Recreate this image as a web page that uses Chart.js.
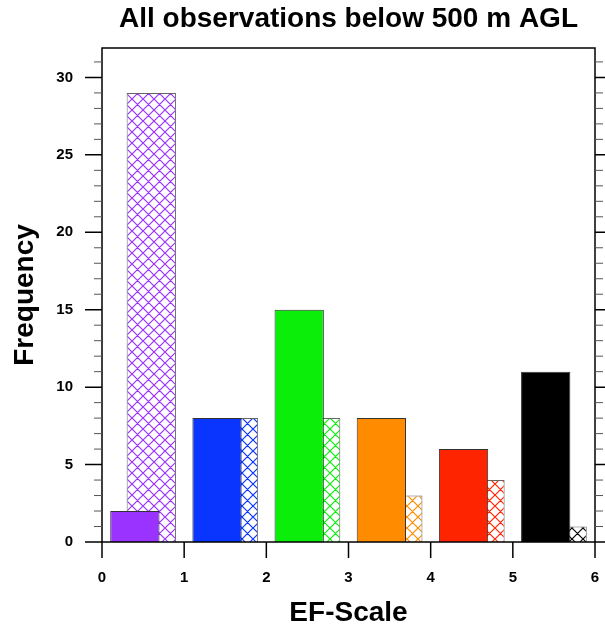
<!DOCTYPE html>
<html lang="en">
<head>
    <meta charset="UTF-8">
    <title>EF-Scale frequency</title>
    <script src="https://cdn.jsdelivr.net/npm/chart.js"></script>
    <style>
        html, body { margin: 0; padding: 0; background: #fff; }
        #wrap { width: 605px; height: 629px; }
    </style>
</head>
<body>
    <div id="wrap"><canvas id="myChart" width="605" height="629"></canvas></div>
    <script>
        // values
        const efScale = [0, 1, 2, 3, 4, 5];
        const solidCounts = [2, 8, 15, 8, 6, 11];
        const hatchCounts = [29, 8, 8, 3, 4, 1];
        const barColors = ['#9a33ff', '#0a35ff', '#0aee0a', '#ff8c00', '#ff2400', '#000000'];
        const xTicks = [0, 1, 2, 3, 4, 5, 6];
        const yTicks = [0, 5, 10, 15, 20, 25, 30];

        const FONT = '"Liberation Sans", Arial, Helvetica, sans-serif';

        // cross hatch, 11px period
        function hatch(color) {
            const n = 11;
            const c = document.createElement('canvas');
            c.width = n; c.height = n;
            const g = c.getContext('2d');
            g.fillStyle = '#fff';
            g.fillRect(0, 0, n, n);
            g.strokeStyle = color;
            g.lineWidth = 1.2;
            g.beginPath();
            for (let k = -1; k <= 1; k++) {
                g.moveTo(k * n, 0); g.lineTo(k * n + n, n);
                g.moveTo(k * n, n); g.lineTo(k * n + n, 0);
            }
            g.stroke();
            return g.createPattern(c, 'repeat');
        }

        // frame, outward tick marks and titles
        const decor = {
            id: 'decor',
            afterDraw(chart) {
                const ctx = chart.ctx;
                const a = chart.chartArea;
                const xs = chart.scales.x, ys = chart.scales.y;
                ctx.save();
                ctx.strokeStyle = '#000';
                ctx.lineWidth = 1.5;
                ctx.strokeRect(a.left, a.top, a.right - a.left, a.bottom - a.top);

                // y minor ticks every 1, major every 5, both sides
                for (let v = 0; v <= Math.floor(ys.max); v++) {
                    const y = ys.getPixelForValue(v);
                    const major = yTicks.includes(v);
                    const len = major ? 17 : 8;
                    ctx.lineWidth = major ? 1.5 : 1;
                    ctx.strokeStyle = major ? '#000' : '#555';
                    ctx.beginPath();
                    ctx.moveTo(a.left, y); ctx.lineTo(a.left - len, y);
                    ctx.moveTo(a.right, y); ctx.lineTo(a.right + len, y);
                    ctx.stroke();
                }
                ctx.lineWidth = 1.5;
                ctx.strokeStyle = '#000';
                xTicks.forEach(v => {
                    const x = xs.getPixelForValue(v);
                    ctx.beginPath();
                    ctx.moveTo(x, a.bottom); ctx.lineTo(x, a.bottom + 16);
                    ctx.stroke();
                });

                ctx.fillStyle = '#000';
                ctx.textAlign = 'center';
                ctx.textBaseline = 'middle';
                const cx = (a.left + a.right) / 2;
                ctx.font = 'bold 28px ' + FONT;
                ctx.fillText('All observations below 500 m AGL', cx, 19);
                ctx.font = 'bold 28px ' + FONT;
                ctx.fillText('EF-Scale', cx, 613);
                ctx.save();
                ctx.translate(25, (a.top + a.bottom) / 2);
                ctx.rotate(-Math.PI / 2);
                ctx.fillText('Frequency', 0, 0);
                ctx.restore();
                ctx.restore();
            }
        };

        const ctx = document.getElementById('myChart');

        new Chart(ctx, {
            type: 'bar',
            data: {
                datasets: [{
                    label: 'solid',
                    data: efScale.map((e, i) => ({ x: e + 0.4, y: solidCounts[i] })),
                    backgroundColor: barColors,
                    borderColor: '#333',
                    borderWidth: 1,
                    order: 0
                }, {
                    label: 'hatched',
                    data: efScale.map((e, i) => ({ x: e + 0.6, y: hatchCounts[i] })),
                    backgroundColor: barColors.map(hatch),
                    borderColor: '#666',
                    borderWidth: 1,
                    order: 1
                }]
            },
            options: {
                responsive: false,
                animation: false,
                layout: { padding: { top: 48, right: 10, left: 0, bottom: 0 } },
                plugins: { legend: { display: false }, tooltip: { enabled: false }, title: { display: false } },
                datasets: { bar: { grouped: false, categoryPercentage: 1, barPercentage: 3 } },
                scales: {
                    x: {
                        type: 'linear',
                        min: 0, max: 6,
                        offset: false,
                        grid: { display: false, drawTicks: false, offset: false },
                        border: { display: false },
                        afterBuildTicks: s => { s.ticks = xTicks.map(v => ({ value: v })); },
                        afterFit: s => { s.height = 87; s.paddingLeft = 0; s.paddingRight = 0; },
                        ticks: { padding: 27, color: '#000', font: { family: FONT, size: 15, weight: 'bold' } }
                    },
                    y: {
                        min: 0, max: 31.9,
                        grid: { display: false, drawTicks: false },
                        border: { display: false },
                        afterBuildTicks: s => { s.ticks = yTicks.map(v => ({ value: v })); },
                        afterFit: s => { s.width = 102; s.paddingTop = 0; s.paddingBottom = 0; },
                        ticks: { padding: 29, color: '#000', font: { family: FONT, size: 15, weight: 'bold' } }
                    }
                }
            },
            plugins: [decor]
        });
    </script>
</body>
</html>
